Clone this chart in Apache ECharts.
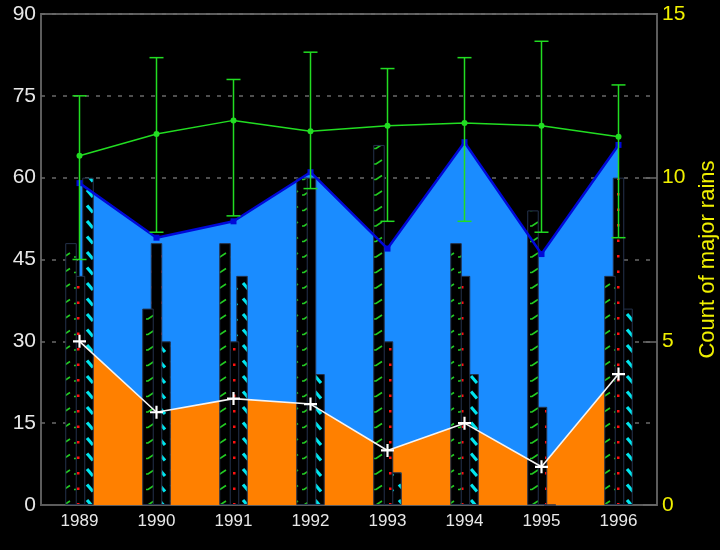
<!DOCTYPE html>
<html>
<head>
<meta charset="utf-8">
<script src="https://cdn.jsdelivr.net/npm/echarts@6/dist/echarts.min.js"></script>
<style>
  html, body { margin: 0; padding: 0; background: #000; }
  #chart { width: 720px; height: 550px; }
</style>
</head>
<body>
<div id="chart"></div>
<script>
// 年份
const years = ['1989', '1990', '1991', '1992', '1993', '1994', '1995', '1996'];
// 面积图 (左轴)
const blueTop = [59, 49, 52, 61, 47, 66.5, 46, 66];
const orangeTop = [30, 17, 19.5, 18.5, 10, 15, 7, 24];
// 绿线 + 误差线 (左轴)
const greenMean = [64, 68, 70.5, 68.5, 69.5, 70, 69.5, 67.5];
const greenHigh = [75, 82, 78, 83, 80, 82, 85, 77];
const greenLow = [45, 50, 53, 58, 52, 52, 50, 49];
// 柱状 (右轴, Count of major rains)
const rainsGreen = [8, 6, 8, 10, 11, 8, 9, 7];
const rainsRed = [7, 8, 5, 10, 5, 7, 3, 10];
const rainsCyan = [10, 5, 7, 4, 1, 4, 0, 6];

const leftTicks = [0, 90, 15];
const rightTicks = [0, 15, 5];

const font = 'Liberation Sans';

// 小图案 tile
function makeTile(draw) {
  const c = document.createElement('canvas');
  c.width = 12;
  c.height = 31;
  const ctx = c.getContext('2d');
  ctx.fillStyle = '#000';
  ctx.fillRect(0, 0, c.width, c.height);
  draw(ctx);
  return c;
}

const greenTile = makeTile(ctx => {
  ctx.strokeStyle = '#22cc22';
  ctx.lineWidth = 1.6;
  [5, 20.5].forEach(y => {
    ctx.beginPath();
    ctx.moveTo(2, y + 4);
    ctx.lineTo(4, y + 4);
    ctx.lineTo(10, y);
    ctx.stroke();
  });
});

const redTile = makeTile(ctx => {
  ctx.fillStyle = '#ff1010';
  [7, 22.5].forEach(y => ctx.fillRect(5, y, 2.5, 2.5));
});

const cyanTile = makeTile(ctx => {
  ctx.strokeStyle = '#00e5ee';
  ctx.lineWidth = 3.2;
  [4, 19.5].forEach(y => {
    ctx.beginPath();
    ctx.moveTo(3, y);
    ctx.lineTo(9, y + 7);
    ctx.stroke();
  });
});

const plusSymbol = 'path://M5,0H7V5H12V7H7V12H5V7H0V5H5Z';

function renderErr(params, api) {
  const i = api.value(0);
  const lo = api.coord([i, api.value(1)]);
  const hi = api.coord([i, api.value(2)]);
  const half = 7;
  const style = { stroke: '#22dd22', lineWidth: 1.5 };
  return {
    type: 'group',
    children: [
      { type: 'line', shape: { x1: lo[0], y1: lo[1], x2: hi[0], y2: hi[1] }, style: style },
      { type: 'line', shape: { x1: lo[0] - half, y1: lo[1], x2: lo[0] + half, y2: lo[1] }, style: style },
      { type: 'line', shape: { x1: hi[0] - half, y1: hi[1], x2: hi[0] + half, y2: hi[1] }, style: style }
    ]
  };
}

const barStyle = (tile) => ({
  color: { image: tile, repeat: 'repeat' },
  borderColor: '#24324c',
  borderWidth: 1
});

const myChart = echarts.init(document.getElementById('chart'));

const option = {
  backgroundColor: '#000',
  animation: false,
  grid: {
    left: 41,
    right: 63,
    top: 14,
    bottom: 45,
    outerBoundsMode: 'none',
    show: true,
    borderColor: '#5c5c5c',
    borderWidth: 2
  },
  xAxis: {
    type: 'category',
    data: years,
    boundaryGap: true,
    axisLine: { lineStyle: { color: '#5c5c5c', width: 2 } },
    axisTick: { alignWithLabel: true, length: 5, lineStyle: { color: '#8a8a8a' } },
    axisLabel: { color: '#e8e8e8', fontFamily: font, fontSize: 17, margin: 8 }
  },
  yAxis: [
    {
      type: 'value',
      min: leftTicks[0],
      max: leftTicks[1],
      interval: leftTicks[2],
      axisLine: { show: false },
      axisTick: { show: false },
      axisLabel: { color: '#e8e8e8', fontFamily: font, fontSize: 21, margin: 5 },
      splitLine: { lineStyle: { color: '#6a6a6a', type: [4, 7], width: 1.5 } }
    },
    {
      type: 'value',
      position: 'right',
      min: rightTicks[0],
      max: rightTicks[1],
      interval: rightTicks[2],
      name: 'Count of major rains',
      nameLocation: 'middle',
      nameRotate: 90,
      nameGap: 40,
      nameTextStyle: { color: '#f0f000', fontFamily: font, fontSize: 22 },
      axisLine: { show: false },
      axisTick: { show: true, inside: true, length: 14, lineStyle: { color: '#6a6a6a', width: 1.5 } },
      axisLabel: { color: '#f0f000', fontFamily: font, fontSize: 21, margin: 5 },
      splitLine: { show: false }
    }
  ],
  series: [
    {
      name: 'blueArea',
      type: 'line',
      data: blueTop,
      z: 1,
      symbol: 'none',
      lineStyle: { width: 0 },
      areaStyle: { color: '#1a8cff', opacity: 1 }
    },
    {
      name: 'orangeArea',
      type: 'line',
      data: orangeTop,
      z: 1,
      symbol: 'none',
      lineStyle: { width: 0 },
      areaStyle: { color: '#ff8000', opacity: 1 }
    },
    {
      name: 'rainsGreen',
      type: 'bar',
      yAxisIndex: 1,
      data: rainsGreen,
      barWidth: 11.5,
      barGap: '-26%',
      z: 4,
      itemStyle: barStyle(greenTile)
    },
    {
      name: 'rainsRed',
      type: 'bar',
      yAxisIndex: 1,
      data: rainsRed,
      barWidth: 11.5,
      barGap: '-26%',
      z: 3,
      itemStyle: barStyle(redTile)
    },
    {
      name: 'rainsCyan',
      type: 'bar',
      yAxisIndex: 1,
      data: rainsCyan,
      barWidth: 11.5,
      barGap: '-26%',
      z: 2,
      itemStyle: barStyle(cyanTile)
    },
    {
      name: 'blueLine',
      type: 'line',
      data: blueTop,
      z: 6,
      symbol: 'rect',
      symbolSize: 6,
      lineStyle: { color: '#0008d8', width: 2.5 },
      itemStyle: { color: '#0008d8' }
    },
    {
      name: 'whiteLine',
      type: 'line',
      data: orangeTop,
      z: 6,
      symbol: plusSymbol,
      symbolSize: 13,
      lineStyle: { color: '#f4f4f4', width: 1.6 },
      itemStyle: { color: '#ffffff' }
    },
    {
      name: 'errBars',
      type: 'custom',
      z: 7,
      renderItem: renderErr,
      data: years.map((y, i) => [i, greenLow[i], greenHigh[i]]),
      encode: { x: 0, y: [1, 2] }
    },
    {
      name: 'greenLine',
      type: 'line',
      data: greenMean,
      z: 8,
      symbol: 'circle',
      symbolSize: 6,
      lineStyle: { color: '#22dd22', width: 1.5 },
      itemStyle: { color: '#22dd22' }
    }
  ]
};

myChart.setOption(option);
window.addEventListener('resize', () => myChart.resize());
</script>
</body>
</html>
